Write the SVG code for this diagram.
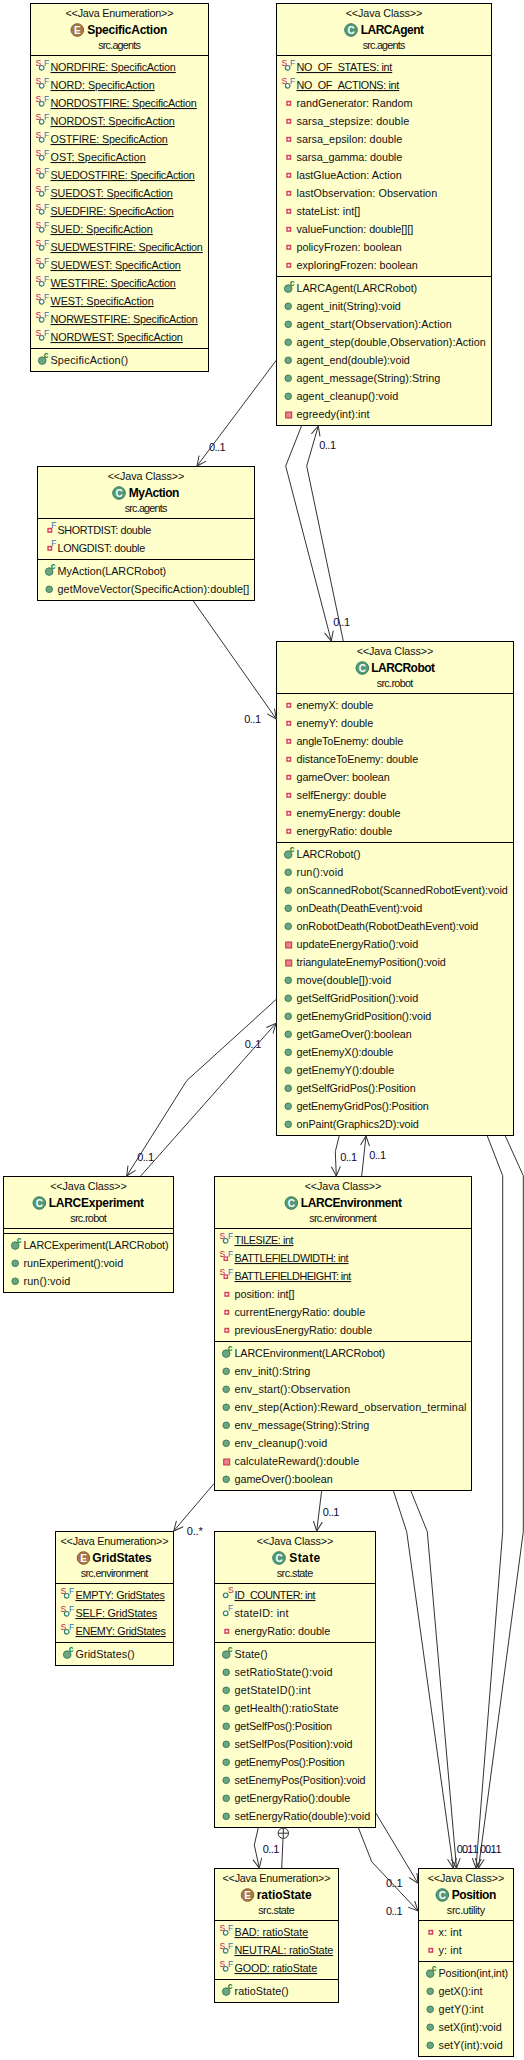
<svg xmlns="http://www.w3.org/2000/svg" width="524" height="2060" viewBox="0 0 524 2060">
<style>
text{font-family:"Liberation Sans",Arial,sans-serif;font-size:10.8px;fill:#111}
.b{fill:#ffffcc;stroke:#000;stroke-width:1}
.s{stroke:#000;stroke-width:1;fill:none}
.c{text-anchor:middle}
.t{font-weight:bold;font-size:12px;fill:#000}
.u{text-decoration:underline;text-underline-offset:3px}
.l{fill:#100830;font-size:11px}
.i{font-size:8.5px;font-weight:bold}
.n{font-size:8.5px}
.g{fill:#6ba680;stroke:#3c8060;stroke-width:1}
.conn path{fill:none;stroke:#333;stroke-width:1}
.a{marker-end:url(#arr)}
.h{font-size:10px;font-weight:bold;fill:#fff;text-anchor:middle}
</style>
<defs>
<marker id="arr" markerWidth="12" markerHeight="12" refX="10" refY="5" orient="auto" markerUnits="userSpaceOnUse"><path d="M0.5,0.5L10,5L0.5,9.5" fill="none" stroke="#333" stroke-width="1"/></marker>
<g id="m"><circle class="g" cx="11.7" cy="-3.7" r="3.3"/></g>
<g id="pm"><rect x="9.2" y="-6" width="6" height="6" fill="#e8808c" stroke="#c83048"/></g>
<g id="pf"><rect x="9.8" y="-6.2" width="5" height="5" fill="#d8405a"/><path d="M11,-3.7h2.6M12.3,-5v2.6" stroke="#fff" stroke-width="1"/></g>
<g id="k"><circle class="g" cx="11.7" cy="-3.4" r="3.8"/><text class="i" x="13.2" y="-6" style="fill:#0a8040">c</text></g>
<g id="sf"><text class="n" x="5" y="-4.6" style="fill:#c02050">S</text><text class="n" x="13.6" y="-5.4" style="fill:#3070c0">F</text><circle cx="11.2" cy="-3.2" r="2.3" fill="#fff" stroke="#2f8060" stroke-width="1.2"/></g>
<g id="sfp"><text class="n" x="5" y="-4.6" style="fill:#c02050">S</text><text class="n" x="13.6" y="-5.4" style="fill:#3070c0">F</text><rect x="9" y="-5.6" width="4.6" height="4.6" fill="#d8405a"/><path d="M10,-3.3h2.6M11.3,-4.6v2.6" stroke="#fff"/></g>
<g id="fp"><use href="#pf"/><text class="n" x="13.8" y="-6" style="fill:#3070c0">F</text></g>
<g id="os"><circle cx="11.2" cy="-3.7" r="2.3" fill="#fff" stroke="#2f8060" stroke-width="1.2"/><text class="n" x="13.4" y="-6" style="fill:#c02050">S</text></g>
<g id="of"><circle cx="11.2" cy="-3.7" r="2.3" fill="#fff" stroke="#2f8060" stroke-width="1.2"/><text class="n" x="13.4" y="-6" style="fill:#3070c0">F</text></g>
<g id="iC"><circle r="6.3" fill="#4f9a78" stroke="#3c8060"/><text class="h" y="3.6">C</text></g>
<g id="iE"><circle r="6.3" fill="#a87848" stroke="#8a6030"/><text class="h" y="3.6">E</text></g>
</defs>

<g id="SpecificAction" transform="translate(30.5,3.5)">
<rect class="b" width="178" height="368"/><path class="s" d="M0,52H178M0,345H178"/>
<text class="c" x="89" y="13.5" textLength="108">&lt;&lt;Java Enumeration&gt;&gt;</text><use href="#iE" x="46.8" y="26.5"/><text class="t" x="56.8" y="30.7" textLength="80">SpecificAction</text><text class="c" x="89" y="45.5" textLength="42.7">src.agents</text>
<use href="#sf" y="67.5"/><text class="u" x="20" y="67.5" textLength="125.3">NORDFIRE: SpecificAction</text>
<use href="#sf" y="85.5"/><text class="u" x="20" y="85.5" textLength="104.3">NORD: SpecificAction</text>
<use href="#sf" y="103.5"/><text class="u" x="20" y="103.5" textLength="146.3">NORDOSTFIRE: SpecificAction</text>
<use href="#sf" y="121.5"/><text class="u" x="20" y="121.5" textLength="124.3">NORDOST: SpecificAction</text>
<use href="#sf" y="139.5"/><text class="u" x="20" y="139.5" textLength="117.3">OSTFIRE: SpecificAction</text>
<use href="#sf" y="157.5"/><text class="u" x="20" y="157.5" textLength="95.3">OST: SpecificAction</text>
<use href="#sf" y="175.5"/><text class="u" x="20" y="175.5" textLength="144.3">SUEDOSTFIRE: SpecificAction</text>
<use href="#sf" y="193.5"/><text class="u" x="20" y="193.5" textLength="122.3">SUEDOST: SpecificAction</text>
<use href="#sf" y="211.5"/><text class="u" x="20" y="211.5" textLength="123.3">SUEDFIRE: SpecificAction</text>
<use href="#sf" y="229.5"/><text class="u" x="20" y="229.5" textLength="102.3">SUED: SpecificAction</text>
<use href="#sf" y="247.5"/><text class="u" x="20" y="247.5" textLength="152.3">SUEDWESTFIRE: SpecificAction</text>
<use href="#sf" y="265.5"/><text class="u" x="20" y="265.5" textLength="130.3">SUEDWEST: SpecificAction</text>
<use href="#sf" y="283.5"/><text class="u" x="20" y="283.5" textLength="125.3">WESTFIRE: SpecificAction</text>
<use href="#sf" y="301.5"/><text class="u" x="20" y="301.5" textLength="103.3">WEST: SpecificAction</text>
<use href="#sf" y="319.5"/><text class="u" x="20" y="319.5" textLength="147.3">NORWESTFIRE: SpecificAction</text>
<use href="#sf" y="337.5"/><text class="u" x="20" y="337.5" textLength="132.3">NORDWEST: SpecificAction</text>
<use href="#k" y="360.5"/><text x="20" y="360.5" textLength="77.7">SpecificAction()</text>
</g>

<g id="LARCAgent" transform="translate(276.5,3.5)">
<rect class="b" width="215" height="422"/><path class="s" d="M0,52H215M0,273H215"/>
<text class="c" x="107.5" y="13.5" textLength="76.7">&lt;&lt;Java Class&gt;&gt;</text><use href="#iC" x="74.5" y="26.5"/><text class="t" x="84.2" y="30.7" textLength="63.3">LARCAgent</text><text class="c" x="107.5" y="45.5" textLength="42.7">src.agents</text>
<use href="#sf" y="67.5"/><text class="u" x="20" y="67.5" textLength="95.7">NO_OF_STATES: int</text>
<use href="#sf" y="85.5"/><text class="u" x="20" y="85.5" textLength="102.7">NO_OF_ACTIONS: int</text>
<use href="#pf" y="103.5"/><text x="20" y="103.5" textLength="116">randGenerator: Random</text>
<use href="#pf" y="121.5"/><text x="20" y="121.5" textLength="112.7">sarsa_stepsize: double</text>
<use href="#pf" y="139.5"/><text x="20" y="139.5" textLength="105.7">sarsa_epsilon: double</text>
<use href="#pf" y="157.5"/><text x="20" y="157.5" textLength="105.7">sarsa_gamma: double</text>
<use href="#pf" y="175.5"/><text x="20" y="175.5" textLength="105.3">lastGlueAction: Action</text>
<use href="#pf" y="193.5"/><text x="20" y="193.5" textLength="140.7">lastObservation: Observation</text>
<use href="#pf" y="211.5"/><text x="20" y="211.5" textLength="63.7">stateList: int[]</text>
<use href="#pf" y="229.5"/><text x="20" y="229.5" textLength="116.7">valueFunction: double[][]</text>
<use href="#pf" y="247.5"/><text x="20" y="247.5" textLength="105.3">policyFrozen: boolean</text>
<use href="#pf" y="265.5"/><text x="20" y="265.5" textLength="121.3">exploringFrozen: boolean</text>
<use href="#k" y="288.5"/><text x="20" y="288.5" textLength="120.7">LARCAgent(LARCRobot)</text>
<use href="#m" y="306.5"/><text x="20" y="306.5" textLength="104.3">agent_init(String):void</text>
<use href="#m" y="324.5"/><text x="20" y="324.5" textLength="155.3">agent_start(Observation):Action</text>
<use href="#m" y="342.5"/><text x="20" y="342.5" textLength="189.3">agent_step(double,Observation):Action</text>
<use href="#m" y="360.5"/><text x="20" y="360.5" textLength="113.3">agent_end(double):void</text>
<use href="#m" y="378.5"/><text x="20" y="378.5" textLength="143.7">agent_message(String):String</text>
<use href="#m" y="396.5"/><text x="20" y="396.5" textLength="101.7">agent_cleanup():void</text>
<use href="#pm" y="414.5"/><text x="20" y="414.5" textLength="73">egreedy(int):int</text>
</g>

<g id="MyAction" transform="translate(37.5,466.5)">
<rect class="b" width="217" height="134"/><path class="s" d="M0,52H217M0,93H217"/>
<text class="c" x="108.5" y="13.5" textLength="76.7">&lt;&lt;Java Class&gt;&gt;</text><use href="#iC" x="81.5" y="26.5"/><text class="t" x="91.2" y="30.7" textLength="50.7">MyAction</text><text class="c" x="108.5" y="45.5" textLength="42.7">src.agents</text>
<use href="#fp" y="67.5"/><text x="20" y="67.5" textLength="93.7">SHORTDIST: double</text>
<use href="#fp" y="85.5"/><text x="20" y="85.5" textLength="87.7">LONGDIST: double</text>
<use href="#k" y="108.5"/><text x="20" y="108.5" textLength="108.7">MyAction(LARCRobot)</text>
<use href="#m" y="126.5"/><text x="20" y="126.5" textLength="191.7">getMoveVector(SpecificAction):double[]</text>
</g>

<g id="LARCRobot" transform="translate(276.5,641.5)">
<rect class="b" width="237" height="494"/><path class="s" d="M0,52H237M0,201H237"/>
<text class="c" x="118.5" y="13.5" textLength="76.7">&lt;&lt;Java Class&gt;&gt;</text><use href="#iC" x="85.8" y="26.5"/><text class="t" x="94.8" y="30.7" textLength="63.7">LARCRobot</text><text class="c" x="118.5" y="45.5" textLength="36.7">src.robot</text>
<use href="#pf" y="67.5"/><text x="20" y="67.5" textLength="76.7">enemyX: double</text>
<use href="#pf" y="85.5"/><text x="20" y="85.5" textLength="76.7">enemyY: double</text>
<use href="#pf" y="103.5"/><text x="20" y="103.5" textLength="106.7">angleToEnemy: double</text>
<use href="#pf" y="121.5"/><text x="20" y="121.5" textLength="121.7">distanceToEnemy: double</text>
<use href="#pf" y="139.5"/><text x="20" y="139.5" textLength="93.3">gameOver: boolean</text>
<use href="#pf" y="157.5"/><text x="20" y="157.5" textLength="89.7">selfEnergy: double</text>
<use href="#pf" y="175.5"/><text x="20" y="175.5" textLength="104">enemyEnergy: double</text>
<use href="#pf" y="193.5"/><text x="20" y="193.5" textLength="95.7">energyRatio: double</text>
<use href="#k" y="216.5"/><text x="20" y="216.5" textLength="64">LARCRobot()</text>
<use href="#m" y="234.5"/><text x="20" y="234.5" textLength="46.7">run():void</text>
<use href="#m" y="252.5"/><text x="20" y="252.5" textLength="211.3">onScannedRobot(ScannedRobotEvent):void</text>
<use href="#m" y="270.5"/><text x="20" y="270.5" textLength="125.7">onDeath(DeathEvent):void</text>
<use href="#m" y="288.5"/><text x="20" y="288.5" textLength="181.7">onRobotDeath(RobotDeathEvent):void</text>
<use href="#pm" y="306.5"/><text x="20" y="306.5" textLength="121.7">updateEnergyRatio():void</text>
<use href="#pm" y="324.5"/><text x="20" y="324.5" textLength="149.3">triangulateEnemyPosition():void</text>
<use href="#m" y="342.5"/><text x="20" y="342.5" textLength="94.7">move(double[]):void</text>
<use href="#m" y="360.5"/><text x="20" y="360.5" textLength="121.7">getSelfGridPosition():void</text>
<use href="#m" y="378.5"/><text x="20" y="378.5" textLength="134.7">getEnemyGridPosition():void</text>
<use href="#m" y="396.5"/><text x="20" y="396.5" textLength="115.3">getGameOver():boolean</text>
<use href="#m" y="414.5"/><text x="20" y="414.5" textLength="96.7">getEnemyX():double</text>
<use href="#m" y="432.5"/><text x="20" y="432.5" textLength="97.7">getEnemyY():double</text>
<use href="#m" y="450.5"/><text x="20" y="450.5" textLength="119.3">getSelfGridPos():Position</text>
<use href="#m" y="468.5"/><text x="20" y="468.5" textLength="132.3">getEnemyGridPos():Position</text>
<use href="#m" y="486.5"/><text x="20" y="486.5" textLength="122.3">onPaint(Graphics2D):void</text>
</g>

<g id="LARCExperiment" transform="translate(3.5,1176.5)">
<rect class="b" width="170" height="116"/><path class="s" d="M0,52H170M0,57H170"/>
<text class="c" x="85" y="13.5" textLength="76.7">&lt;&lt;Java Class&gt;&gt;</text><use href="#iC" x="35.8" y="26.5"/><text class="t" x="45.2" y="30.7" textLength="95.3">LARCExperiment</text><text class="c" x="85" y="45.5" textLength="36.7">src.robot</text>
<use href="#k" y="72.5"/><text x="20" y="72.5" textLength="145">LARCExperiment(LARCRobot)</text>
<use href="#m" y="90.5"/><text x="20" y="90.5" textLength="99.7">runExperiment():void</text>
<use href="#m" y="108.5"/><text x="20" y="108.5" textLength="46.7">run():void</text>
</g>

<g id="LARCEnvironment" transform="translate(214.5,1176.5)">
<rect class="b" width="257" height="314"/><path class="s" d="M0,52H257M0,165H257"/>
<text class="c" x="128.5" y="13.5" textLength="76.7">&lt;&lt;Java Class&gt;&gt;</text><use href="#iC" x="76.8" y="26.5"/><text class="t" x="86.2" y="30.7" textLength="101.3">LARCEnvironment</text><text class="c" x="128.5" y="45.5" textLength="67.7">src.environment</text>
<use href="#sf" y="67.5"/><text class="u" x="20" y="67.5" textLength="59">TILESIZE: int</text>
<use href="#sfp" y="85.5"/><text class="u" x="20" y="85.5" textLength="114">BATTLEFIELDWIDTH: int</text>
<use href="#sfp" y="103.5"/><text class="u" x="20" y="103.5" textLength="116.7">BATTLEFIELDHEIGHT: int</text>
<use href="#pf" y="121.5"/><text x="20" y="121.5" textLength="60">position: int[]</text>
<use href="#pf" y="139.5"/><text x="20" y="139.5" textLength="130.7">currentEnergyRatio: double</text>
<use href="#pf" y="157.5"/><text x="20" y="157.5" textLength="137.7">previousEnergyRatio: double</text>
<use href="#k" y="180.5"/><text x="20" y="180.5" textLength="150.7">LARCEnvironment(LARCRobot)</text>
<use href="#m" y="198.5"/><text x="20" y="198.5" textLength="75.7">env_init():String</text>
<use href="#m" y="216.5"/><text x="20" y="216.5" textLength="115.7">env_start():Observation</text>
<use href="#m" y="234.5"/><text x="20" y="234.5" textLength="232">env_step(Action):Reward_observation_terminal</text>
<use href="#m" y="252.5"/><text x="20" y="252.5" textLength="134.7">env_message(String):String</text>
<use href="#m" y="270.5"/><text x="20" y="270.5" textLength="92.7">env_cleanup():void</text>
<use href="#pm" y="288.5"/><text x="20" y="288.5" textLength="124.7">calculateReward():double</text>
<use href="#m" y="306.5"/><text x="20" y="306.5" textLength="98.3">gameOver():boolean</text>
</g>

<g id="GridStates" transform="translate(55.5,1531.5)">
<rect class="b" width="118" height="134"/><path class="s" d="M0,52H118M0,111H118"/>
<text class="c" x="59" y="13.5" textLength="108">&lt;&lt;Java Enumeration&gt;&gt;</text><use href="#iE" x="28" y="26.5"/><text class="t" x="36.8" y="30.7" textLength="59.4">GridStates</text><text class="c" x="59" y="45.5" textLength="67.7">src.environment</text>
<use href="#sf" y="67.5"/><text class="u" x="20" y="67.5" textLength="89.3">EMPTY: GridStates</text>
<use href="#sf" y="85.5"/><text class="u" x="20" y="85.5" textLength="81.7">SELF: GridStates</text>
<use href="#sf" y="103.5"/><text class="u" x="20" y="103.5" textLength="90.3">ENEMY: GridStates</text>
<use href="#k" y="126.5"/><text x="20" y="126.5" textLength="59">GridStates()</text>
</g>

<g id="State" transform="translate(214.5,1531.5)">
<rect class="b" width="161" height="296"/><path class="s" d="M0,52H161M0,111H161"/>
<text class="c" x="80.5" y="13.5" textLength="76.7">&lt;&lt;Java Class&gt;&gt;</text><use href="#iC" x="64.5" y="26.5"/><text class="t" x="74.8" y="30.7" textLength="31">State</text><text class="c" x="80.5" y="45.5" textLength="36.7">src.state</text>
<use href="#os" y="67.5"/><text class="u" x="20" y="67.5" textLength="81">ID_COUNTER: int</text>
<use href="#of" y="85.5"/><text x="20" y="85.5" textLength="54">stateID: int</text>
<use href="#pf" y="103.5"/><text x="20" y="103.5" textLength="95.7">energyRatio: double</text>
<use href="#k" y="126.5"/><text x="20" y="126.5" textLength="33">State()</text>
<use href="#m" y="144.5"/><text x="20" y="144.5" textLength="98">setRatioState():void</text>
<use href="#m" y="162.5"/><text x="20" y="162.5" textLength="76">getStateID():int</text>
<use href="#m" y="180.5"/><text x="20" y="180.5" textLength="104">getHealth():ratioState</text>
<use href="#m" y="198.5"/><text x="20" y="198.5" textLength="97.5">getSelfPos():Position</text>
<use href="#m" y="216.5"/><text x="20" y="216.5" textLength="118">setSelfPos(Position):void</text>
<use href="#m" y="234.5"/><text x="20" y="234.5" textLength="110.3">getEnemyPos():Position</text>
<use href="#m" y="252.5"/><text x="20" y="252.5" textLength="131">setEnemyPos(Position):void</text>
<use href="#m" y="270.5"/><text x="20" y="270.5" textLength="115.7">getEnergyRatio():double</text>
<use href="#m" y="288.5"/><text x="20" y="288.5" textLength="135.7">setEnergyRatio(double):void</text>
</g>

<g id="ratioState" transform="translate(214.5,1868.5)">
<rect class="b" width="124" height="134"/><path class="s" d="M0,52H124M0,111H124"/>
<text class="c" x="62" y="13.5" textLength="108">&lt;&lt;Java Enumeration&gt;&gt;</text><use href="#iE" x="33" y="26.5"/><text class="t" x="42.2" y="30.7" textLength="55">ratioState</text><text class="c" x="62" y="45.5" textLength="36.7">src.state</text>
<use href="#sf" y="67.5"/><text class="u" x="20" y="67.5" textLength="73.7">BAD: ratioState</text>
<use href="#sf" y="85.5"/><text class="u" x="20" y="85.5" textLength="98.7">NEUTRAL: ratioState</text>
<use href="#sf" y="103.5"/><text class="u" x="20" y="103.5" textLength="82.7">GOOD: ratioState</text>
<use href="#k" y="126.5"/><text x="20" y="126.5" textLength="54">ratioState()</text>
</g>

<g id="Position" transform="translate(418.5,1868.5)">
<rect class="b" width="95" height="188"/><path class="s" d="M0,52H95M0,93H95"/>
<text class="c" x="47.5" y="13.5" textLength="76.7">&lt;&lt;Java Class&gt;&gt;</text><use href="#iC" x="23.8" y="26.5"/><text class="t" x="33.2" y="30.7" textLength="44.7">Position</text><text class="c" x="47.5" y="45.5" textLength="38.3">src.utility</text>
<use href="#pf" y="67.5"/><text x="20" y="67.5" textLength="23.3">x: int</text>
<use href="#pf" y="85.5"/><text x="20" y="85.5" textLength="23.3">y: int</text>
<use href="#k" y="108.5"/><text x="20" y="108.5" textLength="69.7">Position(int,int)</text>
<use href="#m" y="126.5"/><text x="20" y="126.5" textLength="44">getX():int</text>
<use href="#m" y="144.5"/><text x="20" y="144.5" textLength="45">getY():int</text>
<use href="#m" y="162.5"/><text x="20" y="162.5" textLength="63.3">setX(int):void</text>
<use href="#m" y="180.5"/><text x="20" y="180.5" textLength="64.3">setY(int):void</text>
</g>

<g id="connectors" class="conn">
<path class="a" d="M276.5,360L197,466"/>
<path class="a" d="M301.7,425.5L285.7,466L331.3,641"/>
<path class="a" d="M343.3,641L306.7,466L318.3,426"/>
<path class="a" d="M193.3,601L276.3,719"/>
<path class="a" d="M276.3,999.3L186.7,1080.7L126.7,1176"/>
<path class="a" d="M140.7,1176L276,1023.3"/>
<path class="a" d="M339.3,1135.5L335.3,1151.7L336.3,1176"/>
<path class="a" d="M361.7,1176L366,1136"/>
<path class="a" d="M487.3,1136L502.7,1175.7V1531.7L476,1868"/>
<path class="a" d="M505.3,1136L523.3,1175.7V1531.7L478.5,1868"/>
<path class="a" d="M393.3,1490.5L406.7,1531.7L453.3,1868"/>
<path class="a" d="M410.7,1490.5L427.3,1531.7L456.5,1868"/>
<path class="a" d="M214.3,1483.3L173.7,1531"/>
<path class="a" d="M321.7,1490.5L316.7,1531"/>
<path class="a" d="M258.3,1827.5L254.3,1845L259.3,1868"/>
<path d="M281.7,1868L283,1838.5"/>
<circle cx="283.3" cy="1833.2" r="5.2" fill="#fff" stroke="#333"/>
<path d="M278.1,1833.2H288.5M283.3,1828V1838.4"/>
<path class="a" d="M376,1813.3L418,1883.3"/>
<path class="a" d="M358.3,1827.5L371.7,1861.7L418,1911"/>
<text class="l" x="209" y="451" textLength="16.7">0..1</text>
<text class="l" x="319.3" y="449" textLength="16.7">0..1</text>
<text class="l" x="333.3" y="626" textLength="16.7">0..1</text>
<text class="l" x="244.3" y="722.7" textLength="16.7">0..1</text>
<text class="l" x="137.3" y="1161" textLength="16.7">0..1</text>
<text class="l" x="244.7" y="1048" textLength="16.7">0..1</text>
<text class="l" x="340.3" y="1161" textLength="16.7">0..1</text>
<text class="l" x="369.3" y="1159" textLength="16.7">0..1</text>
<text class="l" x="186.7" y="1534.7" textLength="16">0..*</text>
<text class="l" x="322.7" y="1516" textLength="16.7">0..1</text>
<text class="l" x="262.7" y="1852.7" textLength="16.7">0..1</text>
<text class="l" x="386" y="1886.7" textLength="16.7">0..1</text>
<text class="l" x="386" y="1915" textLength="16.7">0..1</text>
<text class="l" x="456.7" y="1852.7" textLength="16.7">0..1</text>
<text class="l" x="462" y="1852.7" textLength="16.7">0..1</text>
<text class="l" x="480" y="1852.7" textLength="16.7">0..1</text>
<text class="l" x="485" y="1852.7" textLength="16.7">0..1</text>
</g>
</svg>
